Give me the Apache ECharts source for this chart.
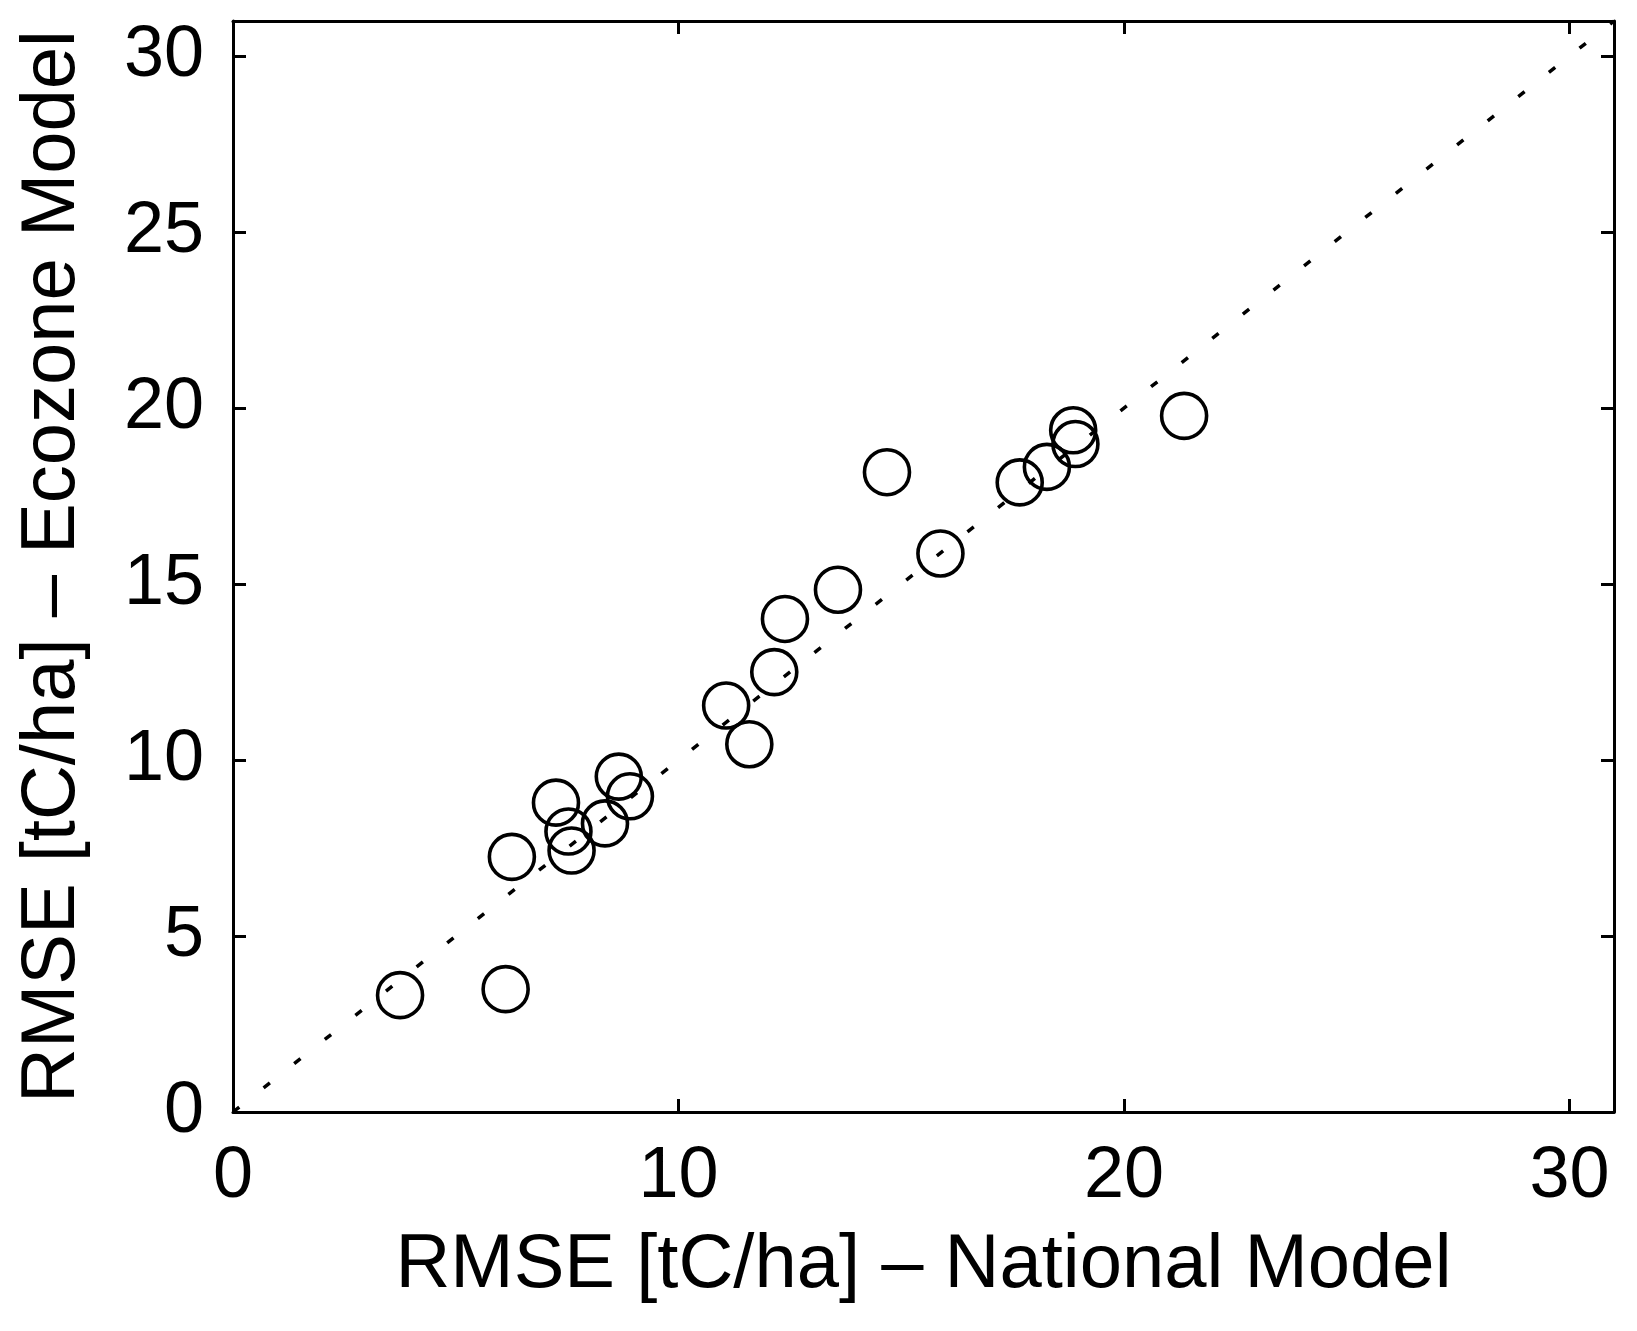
<!DOCTYPE html>
<html>
<head>
<meta charset="utf-8">
<script src="https://cdn.jsdelivr.net/npm/echarts@6/dist/echarts.min.js"></script>
<style>
  html, body { margin: 0; padding: 0; background: #fff; }
  #chart { width: 1637px; height: 1331px; }
</style>
</head>
<body>
<div id="chart"></div>
<script>
// RMSE per region: national model (x) vs ecozone model (y)
var nationalRmse = [3.75, 6.12, 6.26, 7.25, 7.53, 7.60, 8.35, 8.66, 8.91, 11.07, 11.59,
                    12.15, 12.39, 13.58, 14.68, 15.88, 17.66, 18.27, 18.86, 18.91, 21.35];
var ecozoneRmse  = [3.32, 3.49, 7.25, 8.79, 7.97, 7.43, 8.20, 9.53, 8.97, 11.55, 10.45,
                    12.50, 14.01, 14.84, 18.18, 15.87, 17.89, 18.33, 19.37, 18.98, 19.78];
// 1:1 line
var oneToOne = [[0, 0], [31, 31]];

var axisMax = 31;
var xStep = 10;
var yStep = 5;
var fontName = 'Liberation Sans';

var points = [];
for (var i = 0; i < nationalRmse.length; i++) {
	points.push([nationalRmse[i], ecozoneRmse[i]]);
}

function frameAxis(pos, step, withLabels) {
	return {
		type: 'value',
		position: pos,
		min: 0,
		max: axisMax,
		interval: step,
		splitLine: { show: false },
		axisLine: { show: true, onZero: false, lineStyle: { color: '#000', width: 3 } },
		axisTick: { show: true, inside: true, length: 13, lineStyle: { color: '#000', width: 3 } },
		axisLabel: {
			show: withLabels,
			color: '#000',
			fontFamily: fontName,
			fontSize: 72,
			margin: 29,
			showMaxLabel: false,
			formatter: function (v) { return v % step === 0 ? String(v) : ''; }
		}
	};
}

var myChart = echarts.init(document.getElementById('chart'));

var xBottom = frameAxis('bottom', xStep, true);
xBottom.name = 'RMSE [tC/ha] \u2013 National Model';
xBottom.nameLocation = 'middle';
xBottom.nameGap = 116;
xBottom.nameTextStyle = { color: '#000', fontFamily: fontName, fontSize: 76 };

var yLeft = frameAxis('left', yStep, true);
yLeft.name = 'RMSE [tC/ha] \u2013 Ecozone Model';
yLeft.nameLocation = 'middle';
yLeft.nameGap = 142;
yLeft.nameTextStyle = { color: '#000', fontFamily: fontName, fontSize: 76 };

var option = {
	backgroundColor: '#fff',
	animation: false,
	grid: { left: 233, right: 23, top: 21, bottom: 219 },
	xAxis: [xBottom, frameAxis('top', xStep, false)],
	yAxis: [yLeft, frameAxis('right', yStep, false)],
	series: [
		{
			type: 'line',
			data: oneToOne,
			symbol: 'none',
			lineStyle: { color: '#000', width: 3.5, type: [8, 31], cap: 'butt' },
			z: 2
		},
		{
			type: 'scatter',
			data: points,
			symbol: 'circle',
			symbolSize: 45,
			itemStyle: { color: 'rgba(0,0,0,0)', borderColor: '#000', borderWidth: 3.6, opacity: 1 },
			z: 3
		}
	]
};

myChart.setOption(option, true);
</script>
</body>
</html>
